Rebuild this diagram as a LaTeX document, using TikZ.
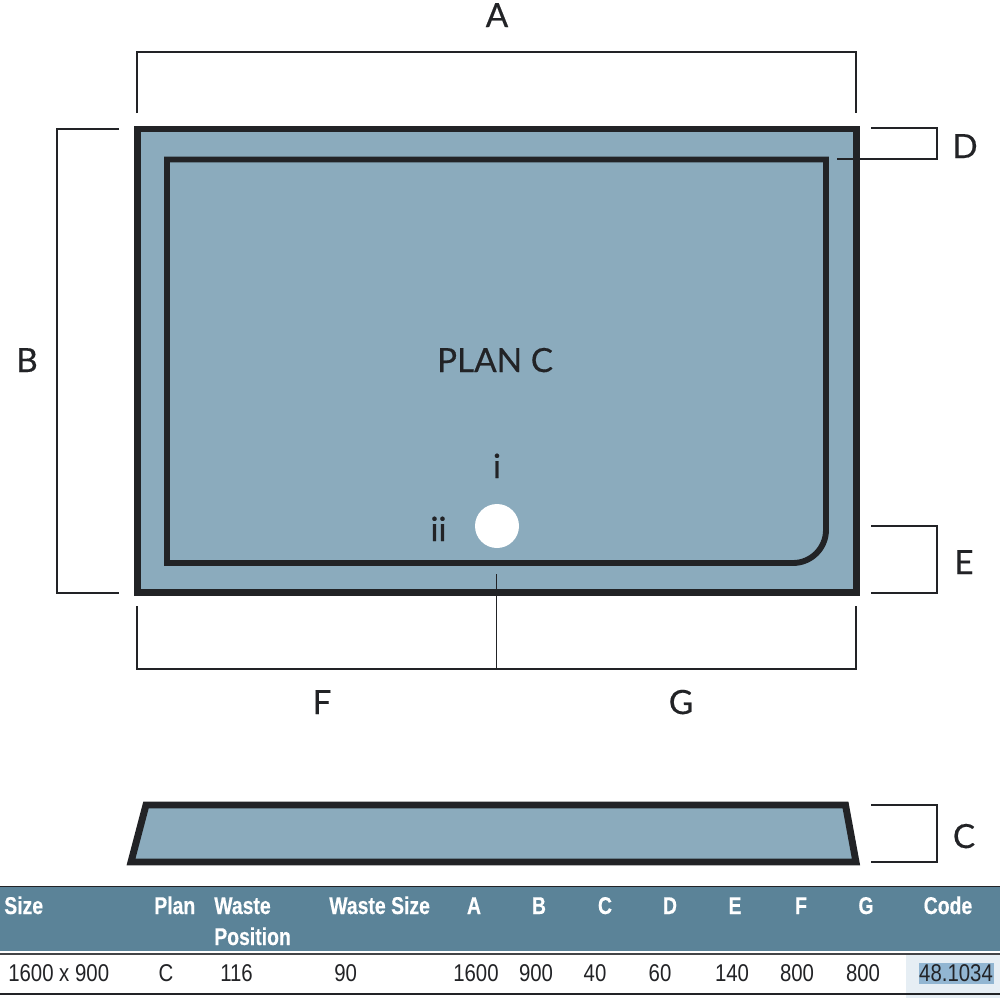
\documentclass[tikz,border=0pt]{standalone}
\usepackage{fontspec}
\setmainfont{Lato}
\newfontfamily\lab[FakeBold=0.35]{Lato}
\newfontfamily\tabreg[FakeStretch=0.84]{Liberation Sans}
\newfontfamily\tabbold[FakeStretch=0.80,FakeBold=0.4]{Liberation Sans Bold}
\definecolor{tray}{HTML}{8BABBD}
\definecolor{ink}{HTML}{222326}
\definecolor{headbar}{HTML}{5B8398}
\definecolor{cellhl}{HTML}{E6EEF4}
\definecolor{selhl}{HTML}{92B6D2}
\tikzset{
  px/.style={x=0.75pt,y=-0.75pt},
  outline/.style={draw=ink,line width=5.2pt,miter limit=10},
  innerline/.style={draw=ink,line width=4.4pt},
  dimline/.style={draw=ink,line width=0.9pt},
  biglabel/.style={font=\lab\fontsize{25}{25}\selectfont,text=ink,inner sep=0pt},
  headtext/.style={font=\tabbold\fontsize{18.2}{18.2}\selectfont,text=white,inner sep=0pt},
  celltext/.style={font=\tabreg\fontsize{18.2}{18.2}\selectfont,text=ink,inner sep=0pt},
}
\begin{document}
\begin{tikzpicture}[px]
\useasboundingbox (0,0) rectangle (1000,1000);
\fill[white] (0,0) rectangle (1000,1000);
% plan
\path[fill=tray,outline] (137.5,129) rectangle (856.5,592.5);
\draw[innerline,line join=miter] (167,563) -- (167,159.5) -- (826,159.5) -- (826,530) arc[start angle=0,end angle=90,radius=33] -- cycle;
\fill[white] (497,526) circle[radius=22];
% dimensions
\draw[dimline] (137,113) -- (137,52) -- (856,52) -- (856,113);
\draw[dimline] (119,129) -- (57,129) -- (57,593) -- (119,593);
\draw[dimline] (871,128) -- (937,128) -- (937,159) -- (837,159);
\draw[dimline] (871,526) -- (937,526) -- (937,593) -- (871,593);
\draw[dimline] (137,606) -- (137,669) -- (856,669) -- (856,606);
\draw[dimline] (496.5,574) -- (496.5,669);
\draw[dimline] (871,805) -- (937,805) -- (937,862) -- (871,862);
% labels
\node[biglabel,anchor=base] (la) at (497,27) {A};
\node[biglabel,anchor=base] (lb) at (27,372) {B};
\node[biglabel,anchor=base] (ld) at (965,158) {D};
\node[biglabel,anchor=base] (le) at (964,574) {E};
\node[biglabel,anchor=base] (lf) at (322,714) {F};
\node[biglabel,anchor=base] (lg) at (681,714) {G};
\node[biglabel,anchor=base] (lc) at (964,848) {C};
\node[biglabel,anchor=base] (plan) at (495,372) {PLAN C};
\node[biglabel,anchor=base] (li) at (497,478) {i};
\node[biglabel,anchor=base] (lii) at (438.5,541) {ii};
% side view
\path[fill=tray,outline,line join=miter] (146,805) -- (845.5,805) -- (856,862) -- (131,862) -- cycle;
% table
\fill[headbar] (0,887) rectangle (1000,951);
\draw[ink,line width=0.8pt] (0,886.5) -- (1000,886.5);
\fill[cellhl] (906,955) rectangle (1000,998);
\fill[selhl] (919,963) rectangle (994,984);
\draw[ink!85,line width=1.5pt] (0,954) -- (1000,954);
\draw[ink,line width=1pt] (0,994) -- (1000,994);
\node[headtext,anchor=base west] (hsize) at (4,914) {Size};
\node[headtext,anchor=base west] (hplan) at (154,914) {Plan};
\node[headtext,anchor=base west] (hwaste) at (214,914) {Waste};
\node[headtext,anchor=base west] (hpos) at (214,945) {Position};
\node[headtext,anchor=base west] (hwsize) at (329,914) {Waste Size};
\node[headtext,anchor=base] (ha) at (474,914) {A};
\node[headtext,anchor=base] (hb) at (539,914) {B};
\node[headtext,anchor=base] (hc) at (605,914) {C};
\node[headtext,anchor=base] (hd) at (670,914) {D};
\node[headtext,anchor=base] (he) at (735,914) {E};
\node[headtext,anchor=base] (hf) at (801,914) {F};
\node[headtext,anchor=base] (hg) at (866,914) {G};
\node[headtext,anchor=base] (hcode) at (948,914) {Code};
\node[celltext,anchor=base west] (csize) at (8,981) {1600 x 900};
\node[celltext,anchor=base] (cplan) at (166,981) {C};
\node[celltext,anchor=base west] (cwaste) at (220,981) {116};
\node[celltext,anchor=base west] (cwsize) at (334,981) {90};
\node[celltext,anchor=base] (ca) at (476,981) {1600};
\node[celltext,anchor=base] (cb) at (536,981) {900};
\node[celltext,anchor=base] (cc) at (595,981) {40};
\node[celltext,anchor=base] (cd) at (660,981) {60};
\node[celltext,anchor=base] (ce) at (732,981) {140};
\node[celltext,anchor=base] (cf) at (797,981) {800};
\node[celltext,anchor=base] (cg) at (863,981) {800};
\node[celltext,anchor=base] (ccode) at (956,981) {48.1034};
\end{tikzpicture}
\end{document}
